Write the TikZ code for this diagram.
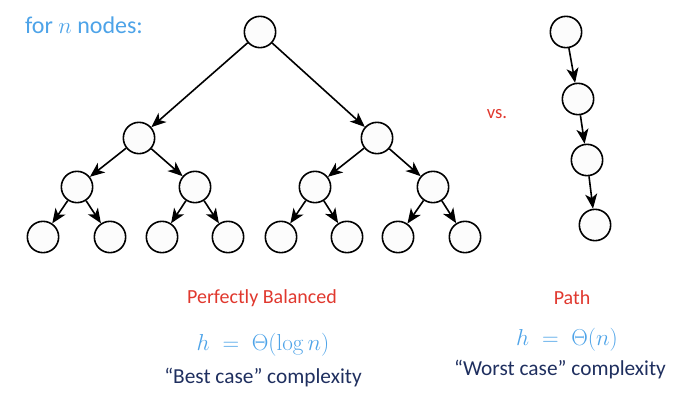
\documentclass[tikz,border=0pt]{standalone}
\usepackage[no-math]{fontspec}
\setmainfont{Carlito}
\usetikzlibrary{arrows.meta}
\definecolor{lblue}{RGB}{77,163,232}
\definecolor{lred}{RGB}{224,56,46}
\definecolor{navy}{RGB}{31,47,95}

\begin{document}
\begin{tikzpicture}[x=0.75pt,y=-0.75pt,>={Stealth[length=11pt,width=9pt,inset=3pt]},line width=1.2pt,
    vertex/.style={circle,draw,fill=black!1,minimum size=23.5pt,inner sep=0pt}]
  \useasboundingbox (0,0) rectangle (690,402);
  \node[text=lblue,font=\fontsize{18}{21}\selectfont] (title) at (84,25) {for $n$ nodes:};
  % balanced tree
  \node[vertex] (r)    at (260, 32)  {};
  \node[vertex] (l)    at (139,138)  {};
  \node[vertex] (rt)   at (377,138)  {};
  \node[vertex] (ll)   at (77,187)   {};
  \node[vertex] (lr)   at (195,187)  {};
  \node[vertex] (rl)   at (315,187)  {};
  \node[vertex] (rr)   at (433,187)  {};
  \node[vertex] (lll)  at (43,237)   {};
  \node[vertex] (llr)  at (110,237)  {};
  \node[vertex] (lrl)  at (162,237)  {};
  \node[vertex] (lrr)  at (228,237)  {};
  \node[vertex] (rll)  at (281,237)  {};
  \node[vertex] (rlr)  at (347,237)  {};
  \node[vertex] (rrl)  at (398,237)  {};
  \node[vertex] (rrr)  at (465,237)  {};
  \path[->] (r)  edge (l)   (r)  edge (rt)
            (l)  edge (ll)  (l)  edge (lr)
            (rt) edge (rl)  (rt) edge (rr)
            (ll) edge (lll) (ll) edge (llr)
            (lr) edge (lrl) (lr) edge (lrr)
            (rl) edge (rll) (rl) edge (rlr)
            (rr) edge (rrl) (rr) edge (rrr);
  % path
  \node[vertex] (p1) at (566, 32)  {};
  \node[vertex] (p2) at (578, 99)  {};
  \node[vertex] (p3) at (587,160)  {};
  \node[vertex] (p4) at (595,225)  {};
  \path[->] (p1) edge (p2) (p2) edge (p3) (p3) edge (p4);
  \node[text=lred,font=\fontsize{14}{16}\selectfont] (vs) at (497,114) {vs.};
  % captions
  \node[text=lred,font=\fontsize{15}{18}\selectfont] (bal) at (262,298) {Perfectly Balanced};
  \node[text=lred,font=\fontsize{15}{18}\selectfont] (pth) at (572,298) {Path};
  \node[text=lblue,font=\fontsize{16.5}{19}\selectfont] (hbal) at (263,345) {$h\;=\;\Theta(\log n)$};
  \node[text=lblue,font=\fontsize{16.5}{19}\selectfont] (hpth) at (567,340) {$h\;=\;\Theta(n)$};
  \node[text=navy,font=\fontsize{16}{19}\selectfont] (best) at (263,378) {“Best case” complexity};
  \node[text=navy,font=\fontsize{16}{19}\selectfont] (worst) at (560,370) {“Worst case” complexity};
\end{tikzpicture}
\end{document}
